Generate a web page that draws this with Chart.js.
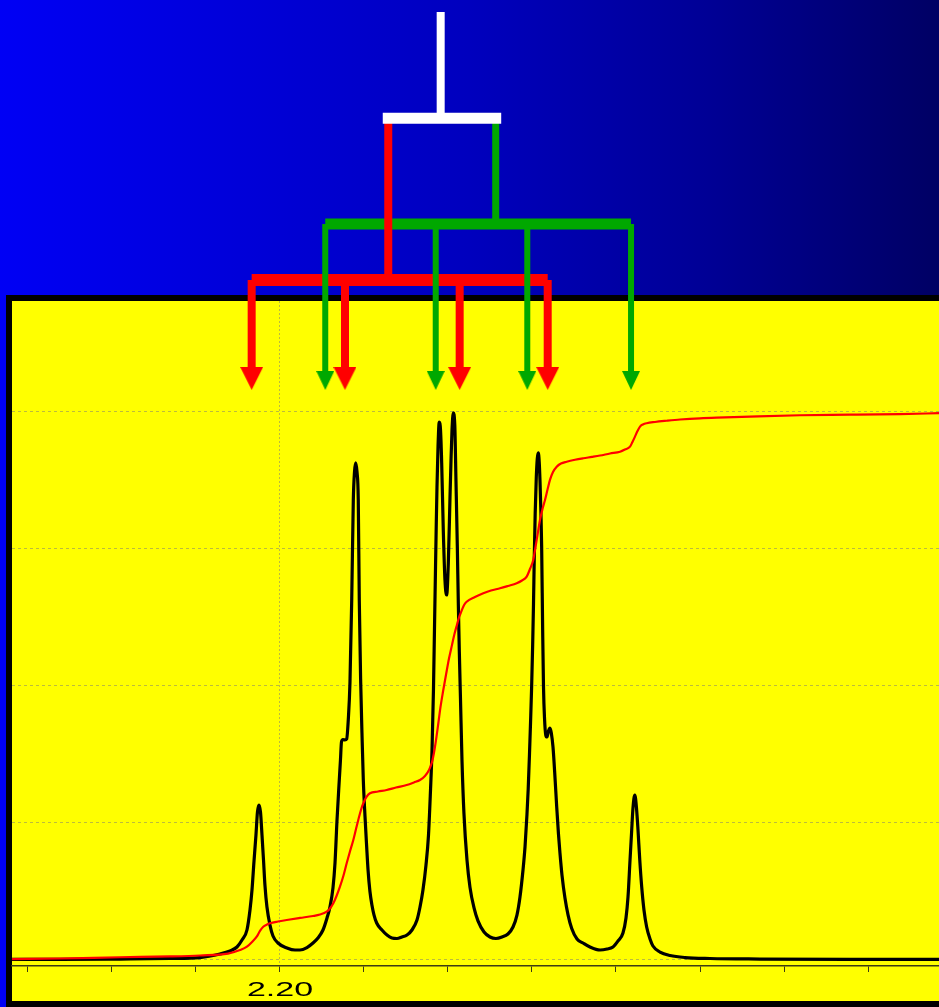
<!DOCTYPE html>
<html>
<head>
<meta charset="utf-8">
<script src="https://cdn.jsdelivr.net/npm/chart.js@4/dist/chart.umd.min.js"></script>
<style>
  html, body { margin: 0; padding: 0; background: #000; }
  canvas { display: block; }
</style>
</head>
<body>
<canvas id="nmr" width="939" height="1007"></canvas>
<script>
// ---- Spectrum trace: [chemical shift (ppm), intensity] ----
const spectrumPoints = [
  [2.23190, 0.004], [2.22619, 0.004], [2.21905, 0.007], [2.21310, 0.011], [2.20952, 0.018],
  [2.20714, 0.044], [2.20595, 0.066], [2.20512, 0.095], [2.20452, 0.146], [2.20393, 0.219],
  [2.20357, 0.365], [2.20333, 0.511], [2.20310, 0.715], [2.20286, 0.912], [2.20268, 1.080],
  [2.20250, 1.131], [2.20232, 1.080], [2.20214, 0.912], [2.20196, 0.730], [2.20179, 0.547],
  [2.20155, 0.387], [2.20119, 0.255], [2.20083, 0.175], [2.20024, 0.124], [2.19917, 0.088],
  [2.19821, 0.073], [2.19762, 0.073], [2.19679, 0.091], [2.19607, 0.124], [2.19548, 0.161],
  [2.19488, 0.219], [2.19440, 0.307], [2.19405, 0.387], [2.19369, 0.526], [2.19345, 0.708],
  [2.19321, 1.022], [2.19294, 1.314], [2.19280, 1.460], [2.19268, 1.591], [2.19250, 1.609],
  [2.19226, 1.606], [2.19206, 1.613], [2.19187, 1.752], [2.19167, 2.022], [2.19146, 2.628],
  [2.19127, 3.358], [2.19113, 3.562], [2.19099, 3.628], [2.19083, 3.562], [2.19068, 3.358],
  [2.19056, 2.628], [2.19039, 2.022], [2.19024, 1.657], [2.19008, 1.314], [2.18988, 1.050],
  [2.18968, 0.827], [2.18952, 0.660], [2.18929, 0.500], [2.18905, 0.400], [2.18881, 0.330],
  [2.18849, 0.270], [2.18786, 0.219], [2.18726, 0.182], [2.18667, 0.161], [2.18607, 0.157],
  [2.18548, 0.168], [2.18488, 0.182], [2.18429, 0.219], [2.18369, 0.292], [2.18333, 0.387],
  [2.18298, 0.511], [2.18262, 0.693], [2.18232, 0.912], [2.18208, 1.241], [2.18190, 1.533],
  [2.18173, 1.971], [2.18161, 2.409], [2.18151, 2.774], [2.18139, 3.200], [2.18131, 3.450],
  [2.18119, 3.740], [2.18104, 3.927], [2.18089, 3.869], [2.18075, 3.628], [2.18056, 3.139],
  [2.18036, 2.774], [2.18016, 2.664], [2.17996, 2.898], [2.17976, 3.380], [2.17964, 3.650],
  [2.17952, 3.869], [2.17937, 3.993], [2.17919, 3.905], [2.17905, 3.500], [2.17889, 3.020],
  [2.17877, 2.600], [2.17865, 2.250], [2.17851, 1.900], [2.17833, 1.450], [2.17810, 1.070],
  [2.17774, 0.730], [2.17738, 0.530], [2.17690, 0.380], [2.17643, 0.285], [2.17571, 0.204],
  [2.17500, 0.168], [2.17429, 0.157], [2.17357, 0.168], [2.17286, 0.190], [2.17226, 0.241],
  [2.17179, 0.328], [2.17143, 0.460], [2.17107, 0.657], [2.17083, 0.825], [2.17060, 1.060],
  [2.17045, 1.250], [2.17030, 1.500], [2.17017, 1.740], [2.17004, 2.000], [2.16992, 2.300],
  [2.16982, 2.600], [2.16973, 2.930], [2.16962, 3.260], [2.16949, 3.520], [2.16937, 3.660],
  [2.16925, 3.701], [2.16914, 3.635], [2.16905, 3.504], [2.16893, 3.248], [2.16885, 3.015],
  [2.16873, 2.409], [2.16863, 1.993], [2.16851, 1.766], [2.16836, 1.642], [2.16821, 1.628],
  [2.16804, 1.672], [2.16786, 1.693], [2.16770, 1.657], [2.16750, 1.555], [2.16726, 1.330],
  [2.16706, 1.120], [2.16685, 0.920], [2.16667, 0.780], [2.16643, 0.620], [2.16607, 0.450],
  [2.16571, 0.330], [2.16527, 0.230], [2.16464, 0.153], [2.16393, 0.124], [2.16310, 0.095],
  [2.16190, 0.073], [2.16107, 0.080], [2.16036, 0.095], [2.15976, 0.139], [2.15917, 0.197],
  [2.15881, 0.307], [2.15857, 0.460], [2.15833, 0.730], [2.15813, 0.949], [2.15798, 1.109],
  [2.15776, 1.204], [2.15756, 1.109], [2.15738, 0.949], [2.15717, 0.730], [2.15694, 0.533],
  [2.15667, 0.365], [2.15635, 0.241], [2.15595, 0.153], [2.15560, 0.102], [2.15476, 0.058],
  [2.15357, 0.033], [2.15179, 0.018], [2.14881, 0.011], [2.14286, 0.007], [2.13214, 0.004],
  [2.12155, 0.004]
];

// ---- Integral trace: [chemical shift (ppm), running integral] ----
const integralPoints = [
  [2.23190, 0.007], [2.22619, 0.011], [2.21905, 0.020], [2.21310, 0.026], [2.20952, 0.033],
  [2.20619, 0.047], [2.20476, 0.073], [2.20393, 0.097], [2.20333, 0.131], [2.20277, 0.170],
  [2.20238, 0.212], [2.20199, 0.243], [2.20155, 0.259], [2.20119, 0.268], [2.20024, 0.281],
  [2.19920, 0.292], [2.19762, 0.307], [2.19607, 0.321], [2.19524, 0.332], [2.19444, 0.353],
  [2.19405, 0.376], [2.19365, 0.414], [2.19327, 0.467], [2.19286, 0.535], [2.19244, 0.617],
  [2.19206, 0.706], [2.19167, 0.792], [2.19127, 0.876], [2.19095, 0.956], [2.19068, 1.022],
  [2.19036, 1.095], [2.19008, 1.144], [2.18970, 1.190], [2.18929, 1.217], [2.18833, 1.230],
  [2.18730, 1.241], [2.18619, 1.259], [2.18492, 1.277], [2.18405, 1.296], [2.18333, 1.314],
  [2.18274, 1.343], [2.18226, 1.387], [2.18190, 1.445], [2.18161, 1.533], [2.18137, 1.628],
  [2.18113, 1.737], [2.18089, 1.847], [2.18060, 1.956], [2.18024, 2.080], [2.17988, 2.200],
  [2.17952, 2.300], [2.17923, 2.380], [2.17896, 2.440], [2.17869, 2.500], [2.17837, 2.550],
  [2.17810, 2.590], [2.17778, 2.615], [2.17679, 2.650], [2.17580, 2.677], [2.17488, 2.697],
  [2.17381, 2.713], [2.17286, 2.730], [2.17182, 2.750], [2.17119, 2.770], [2.17063, 2.798],
  [2.17024, 2.854], [2.16985, 2.920], [2.16964, 2.993], [2.16944, 3.066], [2.16923, 3.146],
  [2.16905, 3.212], [2.16875, 3.292], [2.16845, 3.358], [2.16815, 3.434], [2.16786, 3.504],
  [2.16750, 3.562], [2.16706, 3.601], [2.16655, 3.624], [2.16587, 3.637], [2.16488, 3.651],
  [2.16389, 3.662], [2.16286, 3.672], [2.16190, 3.682], [2.16071, 3.697], [2.15952, 3.710],
  [2.15893, 3.726], [2.15833, 3.747], [2.15804, 3.781], [2.15774, 3.820], [2.15744, 3.861],
  [2.15714, 3.893], [2.15679, 3.909], [2.15635, 3.918], [2.15536, 3.927], [2.15397, 3.936],
  [2.15238, 3.945], [2.15000, 3.954], [2.14702, 3.960], [2.14405, 3.966], [2.13810, 3.976],
  [2.13214, 3.980], [2.12619, 3.985], [2.12155, 3.991]
];

// ---- Splitting tree (positions in ppm, heights in intensity units) ----
const treeRootPpm = 2.18087;
const treeBranchPpm = [2.18711, 2.17432];                  // first split: red branch, green branch
const redLinePpm = [2.20337, 2.19226, 2.17861, 2.16813];
const greenLinePpm = [2.19461, 2.18146, 2.17056, 2.15821];
const treeLevels = [6.920, 6.144, 5.372, 4.964];           // stem top, first split, green bar, red bar
const arrowHeadLevels = [4.245, 4.230];                    // red heads, green heads

// ---- Axis ----
const xRange = [2.12155, 2.23190];
const yRange = [-0.0438, 4.81];
const xTickStep = 0.01;
const xTickLabels = [2.20];
const yGridValues = [0, 1, 2, 3, 4];

const RED = '#ff0000';
const GREEN = '#00a800';
const WHITE = '#ffffff';
const GRID = 'rgba(120,120,120,0.5)';

const isLabelled = v => xTickLabels.some(l => Math.abs(l - v) < 1e-6);

// Down-pointing arrowhead sprite used as a point style
function arrowHead(w, h, color) {
  const c = document.createElement('canvas');
  c.width = w; c.height = h;
  const g = c.getContext('2d');
  g.fillStyle = color;
  g.beginPath();
  g.moveTo(0, 0);
  g.lineTo(w, 0);
  g.lineTo(w / 2, h);
  g.closePath();
  g.fill();
  return c;
}
const redHead = arrowHead(23, 23, RED);
const greenHead = arrowHead(18, 19, GREEN);

function segment(points, color, width, order, extra) {
  return Object.assign({
    data: points.map(([x, y]) => ({ x, y })),
    borderColor: color,
    backgroundColor: color,
    borderWidth: width,
    pointRadius: 0,
    tension: 0,
    clip: false,
    order
  }, extra || {});
}

function arrow(ppm, fromLevel, headLevel, color, shaftWidth, head, order) {
  return segment([[ppm, fromLevel], [ppm, headLevel]], color, shaftWidth, order, {
    pointRadius: [0, 12],
    pointStyle: head,
    pointBackgroundColor: color,
    pointBorderWidth: 0
  });
}

const [levelTop, levelSplit, levelGreen, levelRed] = treeLevels;

const datasets = [
  {
    label: 'spectrum',
    data: spectrumPoints.map(([x, y]) => ({ x, y })),
    borderColor: '#000000',
    borderWidth: 3.2,
    pointRadius: 0,
    cubicInterpolationMode: 'monotone',
    order: 20
  },
  {
    label: 'integral',
    data: integralPoints.map(([x, y]) => ({ x, y })),
    borderColor: RED,
    borderWidth: 2.2,
    pointRadius: 0,
    cubicInterpolationMode: 'monotone',
    order: 19
  },
  // white stem and first split
  segment([[treeRootPpm, levelTop], [treeRootPpm, levelSplit]], WHITE, 8, 1),
  segment([[treeBranchPpm[0], levelSplit], [treeBranchPpm[1], levelSplit]], WHITE, 11, 1,
          { borderCapStyle: 'square' }),
  // green branch
  segment([[treeBranchPpm[1], levelSplit], [treeBranchPpm[1], levelGreen]], GREEN, 7, 9),
  segment([[greenLinePpm[0], levelGreen], [greenLinePpm[greenLinePpm.length - 1], levelGreen]], GREEN, 11, 8),
  // red branch
  segment([[treeBranchPpm[0], levelSplit], [treeBranchPpm[0], levelRed]], RED, 8, 7),
  segment([[redLinePpm[0], levelRed], [redLinePpm[redLinePpm.length - 1], levelRed]], RED, 12, 6)
];
redLinePpm.forEach(p => datasets.push(arrow(p, levelRed, arrowHeadLevels[0], RED, 8, redHead, 6)));
greenLinePpm.forEach(p => datasets.push(arrow(p, levelGreen, arrowHeadLevels[1], GREEN, 6, greenHead, 5)));

// Blue gradient backdrop with the framed yellow plot panel
const panelPlugin = {
  id: 'panel',
  beforeDraw(chart) {
    const { ctx, width, height, chartArea } = chart;
    const g = ctx.createLinearGradient(0, 0, width, 0);
    g.addColorStop(0, 'rgb(0,0,245)');
    g.addColorStop(0.5, 'rgb(0,0,190)');
    g.addColorStop(0.75, 'rgb(0,0,150)');
    g.addColorStop(1, 'rgb(0,0,100)');
    ctx.save();
    ctx.fillStyle = g;
    ctx.fillRect(0, 0, width, height);
    const b = 6;
    ctx.fillStyle = '#000000';
    ctx.fillRect(chartArea.left - b, chartArea.top - b, width, height);
    ctx.fillStyle = '#ffff00';
    ctx.fillRect(chartArea.left, chartArea.top, width - chartArea.left, height - b - chartArea.top);
    ctx.restore();
  }
};

// Wide-set shift labels under the axis
const axisLabelPlugin = {
  id: 'axisLabels',
  afterDraw(chart) {
    const scale = chart.scales.x;
    const ctx = chart.ctx;
    ctx.save();
    ctx.fillStyle = '#000000';
    ctx.font = '20px "Liberation Sans", Arial, sans-serif';
    ctx.textAlign = 'center';
    ctx.textBaseline = 'middle';
    scale.ticks.forEach(t => {
      if (!isLabelled(t.value)) return;
      const px = scale.getPixelForValue(t.value);
      ctx.save();
      ctx.translate(px, scale.bottom - 17);
      ctx.scale(1.7, 1);
      ctx.fillText(t.value.toFixed(2), 0, 0);
      ctx.restore();
    });
    ctx.restore();
  }
};

new Chart(document.getElementById('nmr'), {
  type: 'line',
  data: { datasets },
  options: {
    responsive: false,
    devicePixelRatio: 1,
    animation: false,
    events: [],
    layout: { autoPadding: false, padding: { left: 12, top: 301, right: 0, bottom: 0 } },
    plugins: { legend: { display: false }, tooltip: { enabled: false } },
    scales: {
      x: {
        type: 'linear',
        reverse: true,
        min: xRange[0],
        max: xRange[1],
        afterFit: s => { s.height = 41; },
        ticks: { display: false, stepSize: xTickStep, includeBounds: false, autoSkip: false },
        grid: {
          color: c => (c.tick && isLabelled(c.tick.value)) ? GRID : 'rgba(0,0,0,0)',
          tickColor: '#3c3c14',
          tickLength: 6,
          lineWidth: 1
        },
        border: { display: true, color: '#3c3c14', width: 1.5, dash: [2, 2] }
      },
      y: {
        type: 'linear',
        min: yRange[0],
        max: yRange[1],
        afterFit: s => { s.width = 0; },
        ticks: { display: false, stepSize: 1, includeBounds: false },
        grid: {
          drawTicks: false,
          color: c => (c.tick && yGridValues.some(v => Math.abs(v - c.tick.value) < 1e-6)) ? GRID : 'rgba(0,0,0,0)',
          lineWidth: 1
        },
        border: { display: false, dash: [3, 3] }
      }
    }
  },
  plugins: [panelPlugin, axisLabelPlugin]
});
</script>
</body>
</html>
